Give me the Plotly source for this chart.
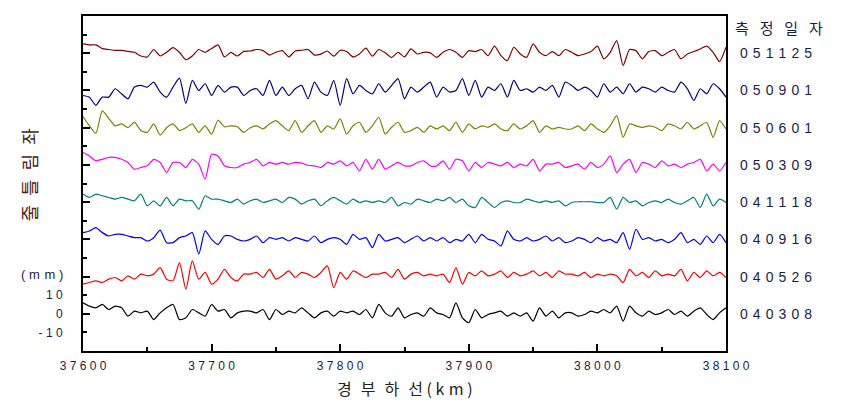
import plotly.graph_objects as go

# ---------------- data ----------------
km = list(range(37600, 38101, 5))

dates = ["040308", "040526", "040916", "041118", "050309", "050601", "050901", "051125"]
offsets = [0, 20, 40, 60, 80, 100, 120, 140]
colors = ["#000000", "#ff0000", "#0000ff", "#008080", "#ff00ff", "#808000", "#000080", "#800000"]

v_040308 = [5.9, 4.1, 3.2, 5, 2.3, 4.1, 3.2, -1.3, 1.4, 0.5, 1.4, -3.1, 0.5, 3.2, 5, -3.1, -2.2, 2.3, 0.5, -1.3, 5, 1.4, 2.3, -2.2, 0.5, 1.4,
            1.4, 0.5, 2.3, -3.1, 2.3, -0.4, 1.4, 0.5, 3.2, 0.5, -2.2, 0.5, 1.4, -1.3, 1.4, 0.5, 1.4, -0.4, 2.3, -2.2, 5, 0.5, -1.3, 3.2, -2.2,
            -0.4, 0.5, -1.3, 3.2, 0.5, -0.4, -2.2, 5.9, -2.2, -4.8, 2.3, -2.2, -0.4, 0.5, 1.4, -1.3, 0.5, -1.3, 0.5, -4, 3.2, -1.3, 1.4, -2.2, 0.5,
            0.5, -1.3, -0.4, 1.4, 0.5, 2.3, 0.5, 4.1, -4, 4.1, 0.5, -1.3, 1.4, -0.4, 0.5, 2.3, -0.4, 1.4, -1.3, 1.4, 3.2, -0.4, -3.1, 0.5, 3.2]
v_040526 = [-4.1, -3.2, -2.3, -3.2, -1.4, -0.5, -2.3, 0.4, -1.4, 1.3, 0.4, 1.3, 4.8, -1.4, -2.3, 7.5, -6.8, 8.4, -1.4, 2.2, -4.1, -1.4, 3.9, -0.5, -2.3, 1.3,
            1.3, 2.2, -0.5, 3.9, -1.4, 0.4, 3, -0.5, 2.2, 1.3, -0.5, 2.2, 5.7, -5.9, 2.2, -1.4, 3, 1.3, -0.5, 1.3, 1.3, 2.2, -0.5, 3.9, -1.4,
            1.3, 2.2, 0.4, 1.3, 0.4, 1.3, -3.2, 4.8, -4.1, 2.2, 0.4, 3, 0.4, 1.3, 3, -0.5, 2.2, 0.4, 1.3, 3, 0.4, 2.2, -0.5, 3, 1.3,
            1.3, 0.4, 2.2, -0.5, 1.3, 0.4, 1.3, 0.4, -3.2, 3.9, 0.4, 2.2, -0.5, 3, 0.4, 1.3, 0.4, 3.9, -2.3, 2.2, -0.5, 3, 0.4, 2.2, -0.5]
v_040916 = [3.6, 4.5, 6.3, 3.6, 1.8, 2.7, 2.7, 1.8, 0.9, 0.9, -0.9, 0.9, 5, -1.8, -1.8, 0.9, 1.8, 3.6, -8, 4.5, 0, -2.7, 1.8, 1.8, 0, -0.9,
            0, 1.8, -1.8, 0.9, 0, 0.9, -0.9, 0.9, 0, -0.9, 1.8, -1.8, 0, 0.9, 0, -2.7, 2.7, 0, 0.9, -4.5, 2.7, -0.9, 0, 0.9, -1.8,
            0, 1.8, -0.9, 0.9, -0.9, 0.9, -1.8, 0, -0.9, 2.7, -1.8, 2.7, 0, -0.9, -3.6, 4.5, 0, -0.9, 0.9, -0.9, 0, 1.8, -0.9, 0.9, -1.8,
            -0.9, 0.9, 0, -1.8, 0.9, -0.9, 0, -1.8, 3.6, -5.4, 5.4, 0, 0.9, -0.9, 0, -1.8, 0, 3.6, -1.8, 0, -2.7, 1.8, -1.8, 2.7, -1.8]
v_041118 = [4.3, 2.5, 4.3, 3.4, 2.5, 1.6, 2.5, 1.6, 0.7, 4.3, -2, 0.7, -2, 2.5, -2, 1.6, 0.7, 0.7, -3.8, 3.4, 1.6, 1.6, 0.7, -0.2, 1.6, -1.1,
            0.7, 1.6, -0.2, 0.7, 1.6, -0.2, 2.5, 1.6, -1.1, 0.7, 1.6, -2, 0.7, 2.5, 0.7, -1.1, 1.6, -0.2, 0.7, -0.2, 0.7, -0.2, 2.5, -2, -0.2,
            -1.1, 1.6, 0.7, -0.2, 1.6, 0.7, 2.5, -0.2, 1.6, -2, -2.9, 2.5, -0.2, -2.9, -0.2, 0.7, -0.2, -0.2, 1.6, 0.7, -0.2, 0.7, -0.2, 0.7, -2,
            -0.2, 0.2, 0.2, 0.2, -0.2, -0.2, 2.5, -3.8, 2.5, -0.2, 0.7, -2, -0.2, 0.7, -0.2, 1.6, -0.2, -1.1, 0.7, 2.5, -2.9, 4.3, -2, 1.6, -0.2]
v_050309 = [6.6, 4.8, 2.2, 3, 4, 4, 3, 1.3, -2.3, -1.4, -0.5, 3, 1.3, -4, 1.3, 1.3, -1.4, 3, 0.4, -7.7, 5.7, 4.8, -0.5, -1.4, -1.4, 0.4,
            1.3, 3, -0.5, 1.3, 0.4, 1.3, 0.4, 1.3, 0.9, -0.2, -0.5, -1.4, 1.3, 0.4, 2.2, -0.5, 1.3, -3.2, 3, -2.3, 3, -2.3, -0.5, 1.3, -0.5,
            -0.5, 1.3, 2.2, -0.5, -0.5, 2.2, -2.3, 3, 2.2, -3.2, 1.3, -1.4, 1.3, 0.4, -0.5, 1.3, -1.4, 0.4, -0.5, 3, -3.2, 0.4, 0.4, 1.3, -1.4,
            -0.5, 0.4, -2.3, 1.3, -1.4, 0.4, 4.8, -4.1, 0.4, 3, -4.1, 1.3, 0.4, -1.4, 2.2, -0.5, 0.4, -1.4, 0.4, 1.3, 3, -3.2, 0.4, -3.2, 1.3]
v_050601 = [6, 1, -3, 9, 5, 1, 2, 0, 3, -1.5, -2.5, 2, -4, 0, 2, -1.5, 0, 2, -2.5, 1, -3.5, 4, 0.5, 1, 0.5, -2.5,
            0, 1, -0.7, 2, 3.8, 1, -1.6, 3.8, -2.5, 1, 3.8, -2.5, 1, -0.7, 4.7, -3.4, 1, 2.9, -2.5, 1, 5.6, -3.4, 0.2, 2.9, -2.5,
            -1.6, 0.2, -2.5, 1, -0.7, 1, -1.6, 2.9, -2.5, 2, -0.7, 1, 0.2, 2, -0.7, -1.6, 2, -0.7, 1, 3.8, -2.5, 1, -0.7, 0.2, -0.7,
            -0.7, 1, -1.6, 2, -0.7, -2.5, 1, 6.5, -5.2, 2, 1, 0.2, 1, 0.2, -1.6, 2, 1, -0.7, 2.9, -0.7, 1, 2.9, -5.2, 3.8, -0.7]
v_050901 = [-2.7, -3.6, -8, -3.6, -3.6, 0.9, -1.8, -4.5, 1.8, 2.7, 1.8, 4.5, -0.9, -3.6, 1.8, 6.6, -7, 5.4, 0, 3.6, -2.7, 2.7, -0.9, 1.8, 1.8, -2.7,
            0, 0.9, -2.7, 5.4, -2.7, 1.8, -2.7, 0.9, 2.7, -4.5, 4.5, -0.9, -2.7, 5.4, -8, 6.3, -1.8, 2.7, 0, -1.8, 3.6, -0.9, 2.7, 6.3, -4.5,
            1.8, -0.9, 1.8, 4.5, -3.6, 1.8, -0.9, 0, 6.3, -2.7, 5.4, -3.6, 1.8, 0, 3.6, -3.6, 5.4, 0, 0.9, -0.9, 1.8, 0, 2.7, -3.6, 4.5,
            2.7, 0, 1.8, 0, -3.6, 3.6, -0.9, 1.8, -1.8, 3.6, -0.9, 1.8, 0.9, -0.9, 1.8, 0, -0.9, 4.5, 0.9, -5.4, 0.9, -1.8, 3.6, 0.9, -3.6]
v_051125 = [5, 4.5, 4.5, 2.5, 2, 1.5, 1.5, 1, 0.5, -1.5, -2, 2, -1.5, 0.5, 3, 0.5, -3.5, -1.5, 2, 0.5, 2.5, 4.5, -2, 0.5, -1.5, 1,
            1.2, 2, 1.4, -1, 0.5, 1.4, -2, 1.2, 1.6, 2, -1, -0.5, 1.2, -1.6, 1.6, 0.9, -2, -0.4, 2.7, -1.6, 2, 0.2, -2.3, 0.5, -2,
            2.3, -0.4, 0.5, 0.2, -2.2, 0.5, 2, 0.5, -2.2, 1.4, 0.9, 2, -1.3, 3.8, -1.3, -4, 3.2, -0.4, -2.2, 5, 0.5, -1.3, 0.9, -1.3, 2,
            0.5, -1.3, -0.4, 0.9, 3.8, -3, 0.5, 6.8, -6.6, 2, 1.4, -3, 0.9, 1.4, -1.3, 0.5, 2, -3, -0.4, 0.9, 2.3, 3.8, 0.5, -4.5, 3.2]

series = [v_040308, v_040526, v_040916, v_041118, v_050309, v_050601, v_050901, v_051125]

x_ticks = [37600, 37700, 37800, 37900, 38000, 38100]
y_ticks = list(range(-20, 161, 10))
y_major = list(range(-20, 161, 20))
y_labeled = {-10: "-10", 0: "0", 10: "10"}

# ---------------- figure ----------------
NUM = "Liberation Sans, Arial, sans-serif"
KOR = "Noto Sans CJK KR, sans-serif"
TXT = "#1c1c44"
NB = "\u00a0"
HAIR = "\u200a"
EN = "\u2002"


def spaced(s, sep=" "):
    return sep.join(s)


fig = go.Figure()
for vals, off, col in zip(series, offsets, colors):
    fig.add_trace(go.Scatter(x=km, y=[v + off for v in vals], mode="lines",
                             line=dict(color=col, width=1.2, shape="spline", smoothing=0.6),
                             showlegend=False, hoverinfo="skip"))
# empty trace to register the overlay axis used for the long tick marks
fig.add_trace(go.Scatter(x=[], y=[], yaxis="y2", showlegend=False, hoverinfo="skip"))

fig.update_layout(
    width=862, height=405,
    margin=dict(l=83, r=136, t=16, b=54),
    paper_bgcolor="white", plot_bgcolor="white",
    hovermode=False,
    xaxis=dict(range=[37600, 38100], tickmode="array", tickvals=x_ticks,
               ticktext=[spaced(str(t), NB) for t in x_ticks],
               ticks="inside", ticklen=7, tickwidth=2, tickcolor="black",
               minor=dict(tickmode="linear", tick0=37600, dtick=50, ticks="inside",
                          ticklen=4, tickwidth=2, tickcolor="black"),
               showline=True, linewidth=2, linecolor="black", mirror=True,
               showgrid=False, zeroline=False, ticklabelstandoff=3,
               tickfont=dict(family=NUM, size=12, color=TXT)),
    yaxis=dict(range=[-20, 160], tickmode="array", tickvals=y_ticks,
               ticktext=[spaced(y_labeled[t], NB) if t in y_labeled else "" for t in y_ticks],
               ticks="inside", ticklen=4, tickwidth=2, tickcolor="black",
               showline=True, linewidth=2, linecolor="black", mirror=True,
               showgrid=False, zeroline=False, ticklabelstandoff=16,
               tickfont=dict(family=NUM, size=12, color=TXT)),
    yaxis2=dict(range=[-20, 160], overlaying="y", side="left", anchor="x",
                tickmode="array", tickvals=y_major, ticks="inside", ticklen=7,
                tickwidth=2, tickcolor="black", showticklabels=False,
                showline=False, showgrid=False, zeroline=False),
)

ann = []
# right-hand labels
ann.append(dict(text=spaced("측정일자", EN + NB), xref="paper", x=1, xshift=7, xanchor="left",
                yref="y", y=154, yanchor="middle", showarrow=False,
                font=dict(family=KOR, size=15, color=TXT)))
for d, off in zip(dates, offsets):
    ann.append(dict(text=spaced(d, NB + HAIR), xref="paper", x=1, xshift=12, xanchor="left",
                    yref="y", y=off, yanchor="middle", showarrow=False,
                    font=dict(family=NUM, size=14, color=TXT)))
# axis titles
ann.append(dict(text=spaced("경부하선", EN + HAIR) + NB + "(" + NB + spaced("km", NB + HAIR) + NB + ")",
                xref="paper", x=0.5, yref="paper", y=0, yshift=-37,
                xanchor="center", yanchor="middle",
                showarrow=False, font=dict(family=KOR, size=16, color="#222222")))
ann.append(dict(text=spaced("줄틀림좌", EN), xref="paper", x=0, xshift=-55, xanchor="center",
                yref="paper", y=0.5, yshift=8, yanchor="middle", textangle=-90,
                showarrow=False, font=dict(family=KOR, size=18, color="#4a2418")))
ann.append(dict(text="(" + NB + spaced("mm", NB + HAIR) + NB + ")", xref="paper", x=0, xshift=-41,
                xanchor="center", yref="y", y=21, yanchor="middle", showarrow=False,
                font=dict(family=NUM, size=13, color=TXT)))
fig.update_layout(annotations=ann)

fig.write_html("out.html", config={"displayModeBar": False, "staticPlot": True},
               post_script="document.body.style.margin='0';")
